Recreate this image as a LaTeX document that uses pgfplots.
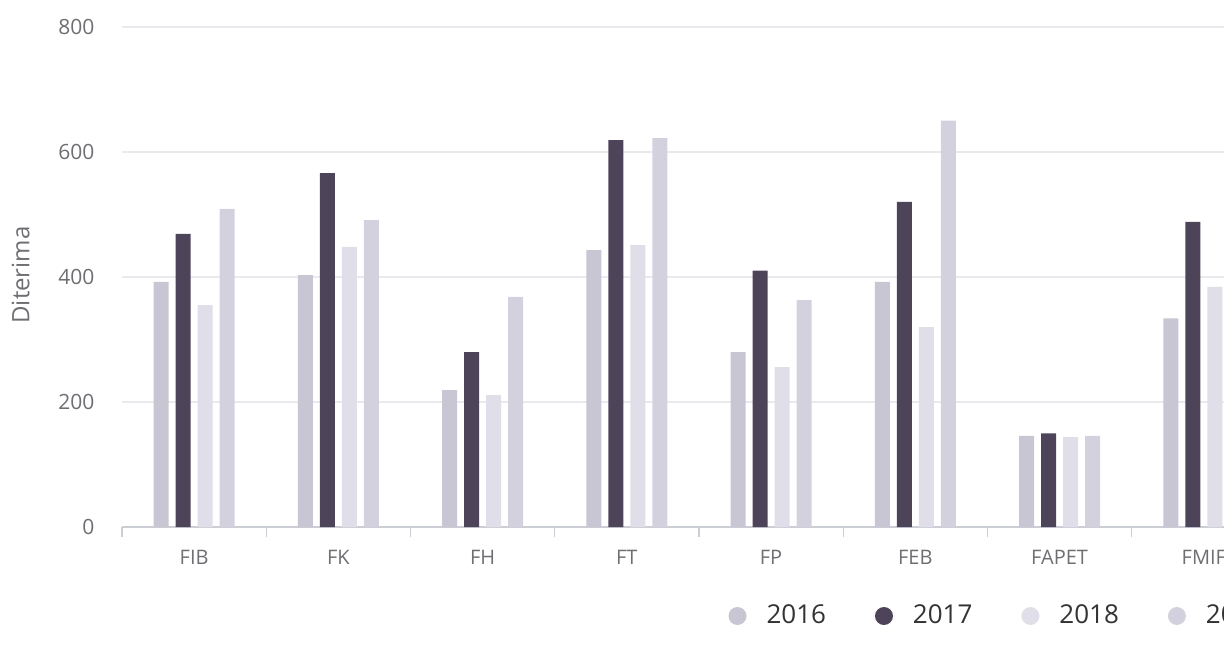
\documentclass[border=0pt]{standalone}
\usepackage{fontspec}
\setmainfont{Open Sans}
\usepackage{pgfplots}
\pgfplotsset{compat=1.18}
\definecolor{c16}{RGB}{200,198,210}
\definecolor{c17}{RGB}{78,68,90}
\definecolor{c18}{RGB}{224,222,232}
\definecolor{c19}{RGB}{212,209,222}
\definecolor{tickgray}{RGB}{110,110,115}
\definecolor{gridgray}{RGB}{234,234,238}
\definecolor{linegray}{RGB}{204,206,214}
\begin{document}
\begin{tikzpicture}
\path[use as bounding box] (-61pt,-60.5pt) rectangle (551pt,263.5pt);
\clip (-61pt,-60.5pt) rectangle (551pt,263.5pt);
\begin{axis}[
  at={(0pt,0pt)}, anchor=south west,
  scale only axis, width=551pt, height=250pt,
  xmin=-0.5, xmax=7.14, ymin=0, ymax=800,
  ybar, bar width=0.104,
  axis lines*=left,
  y axis line style={draw=none},
  x axis line style={draw=linegray, line width=0.6pt},
  ytick={0,200,400,600,800},
  ymajorgrids, grid style={gridgray, line width=0.6pt},
  major y tick style={draw=none},
  xtick={0,...,7},
  xticklabels={FIB,FK,FH,FT,FP,FEB,FAPET,FMIF},
  major x tick style={draw=none},
  minor xtick={-0.5,0.5,...,7.5},
  minor x tick style={draw=linegray, line width=0.6pt},
  minor tick length=5pt,
  tick align=outside,
  /pgf/number format/assume math mode=true,
  xticklabel style={font=\fontsize{10}{12}\selectfont, text=tickgray, yshift=-4pt},
  yticklabel style={font=\fontsize{10.5}{12}\selectfont, text=tickgray, anchor=east, xshift=-6pt},
  ylabel={Diterima},
  ylabel style={font=\fontsize{12}{14}\selectfont, text=tickgray, at={(axis description cs:-0.092,0.504)}, anchor=center, rotate=0},
  legend columns=4,
  legend style={at={(axis description cs:0.550,-0.178)}, anchor=west, draw=none, fill=none, inner sep=0pt,
    font=\fontsize{13}{15}\selectfont, text=black!80,
    /tikz/every odd column/.append style={column sep=8pt},
    /tikz/every even column/.append style={column sep=22.5pt}},
  legend image code/.code={\fill[#1] (0pt,0pt) circle (4.5pt);},
]
\addplot[fill=c16, draw=none, bar shift=-0.229] coordinates {(0,392) (1,403) (2,219) (3,443) (4,280) (5,392) (6,146) (7,334)};
\addplot[fill=c17, draw=none, bar shift=-0.076] coordinates {(0,469) (1,566) (2,280) (3,619) (4,410) (5,520) (6,150) (7,488)};
\addplot[fill=c18, draw=none, bar shift=0.076] coordinates {(0,355) (1,448) (2,211) (3,451) (4,256) (5,320) (6,144) (7,384)};
\addplot[fill=c19, draw=none, bar shift=0.229] coordinates {(0,509) (1,491) (2,368) (3,622) (4,363) (5,650) (6,146)};
\legend{2016,2017,2018,2019}
\end{axis}
\end{tikzpicture}
\end{document}
